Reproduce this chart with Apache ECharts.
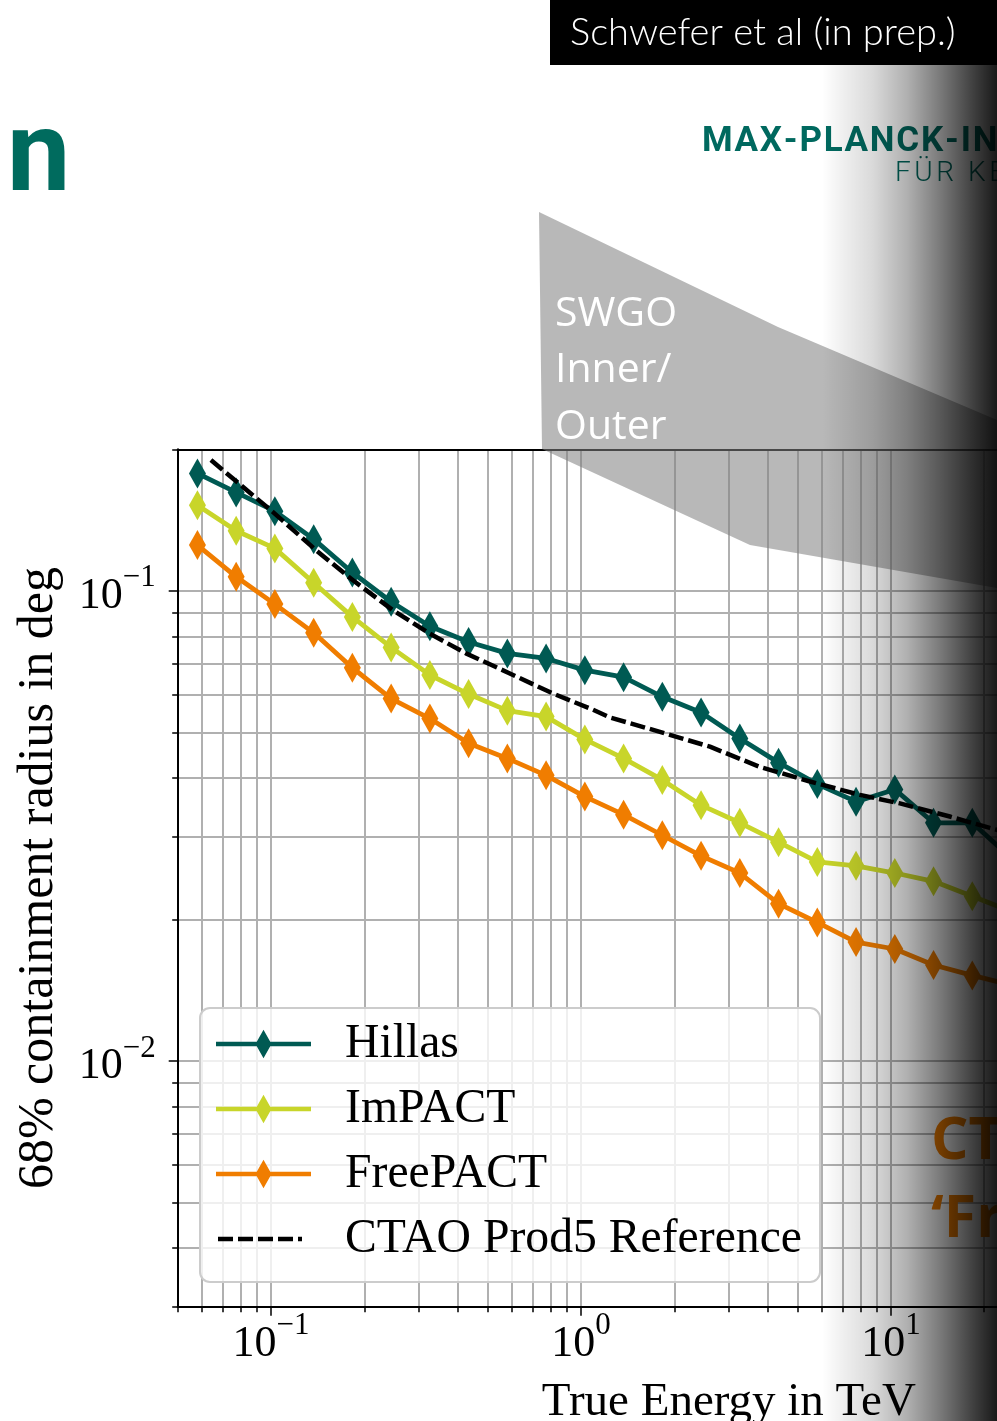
<!DOCTYPE html>
<html>
<head>
<meta charset="utf-8">
<script src="https://cdn.jsdelivr.net/npm/echarts@6/dist/echarts.min.js"></script>
<style>
  html, body { margin: 0; padding: 0; background: #ffffff; }
  #chart { width: 997px; height: 1421px; }
</style>
</head>
<body>
<div id="chart"></div>
<script>
// Energy bin centres in TeV (eight bins per decade)
const energyTeV = [0.0579, 0.0772, 0.1029, 0.1373, 0.1830, 0.2441, 0.3255, 0.4340, 0.5788, 0.7718,
                   1.0292, 1.3725, 1.8302, 2.4406, 3.2546, 4.3401, 5.7876, 7.7179, 10.292, 13.725,
                   18.302, 24.406];

// 68% containment radius in deg for each reconstruction method
const hillas   = [0.1777, 0.1619, 0.1477, 0.1288, 0.1094, 0.0948, 0.0841, 0.0778, 0.0736, 0.0718,
                  0.0678, 0.0655, 0.0595, 0.0551, 0.0485, 0.0431, 0.0388, 0.0356, 0.0378, 0.0321,
                  0.0321, 0.0270];
const impact   = [0.1521, 0.1342, 0.1231, 0.1040, 0.0880, 0.0758, 0.0662, 0.0603, 0.0556, 0.0540,
                  0.0483, 0.0440, 0.0396, 0.0350, 0.0321, 0.0292, 0.0265, 0.0260, 0.0251, 0.0241,
                  0.0224, 0.0208];
const freepact = [0.1251, 0.1071, 0.0937, 0.0814, 0.0686, 0.0590, 0.0535, 0.0474, 0.0440, 0.0405,
                  0.0365, 0.0334, 0.0302, 0.0273, 0.0251, 0.0216, 0.0197, 0.0179, 0.0173, 0.0160,
                  0.0152, 0.0145];

// CTAO Prod5 reference curve
const refEnergyTeV = [0.0640, 0.1013, 0.1397, 0.1834, 0.2469, 0.3241, 0.4256, 0.5871, 0.8105, 1.0906,
                      1.240, 1.798, 2.607, 3.780, 5.479, 7.943, 10.69, 15.49, 20.85, 24.2];
const refRadius    = [0.1897, 0.1472, 0.1220, 0.1054, 0.0910, 0.0812, 0.0736, 0.0668, 0.0605, 0.0559,
                      0.0538, 0.0501, 0.0466, 0.0422, 0.0393, 0.0368, 0.0353, 0.0331, 0.0313, 0.0305];

// Tick positions for the log axes
const xMajorTicks = [0.1, 1, 10, 100];
const xMinorTicks = [0.05, 0.06, 0.07, 0.08, 0.09, 0.2, 0.3, 0.4, 0.5, 0.6, 0.7, 0.8, 0.9,
                     2, 3, 4, 5, 6, 7, 8, 9, 20, 30, 40, 50, 60, 70, 80, 90];
const yMajorTicks = [0.01, 0.1];
const yMinorTicks = [0.003, 0.004, 0.005, 0.006, 0.007, 0.008, 0.009,
                     0.02, 0.03, 0.04, 0.05, 0.06, 0.07, 0.08, 0.09, 0.2];

const seriesNames  = ['Hillas', 'ImPACT', 'FreePACT', 'CTAO Prod5 Reference'];
const seriesColors = ['#005a53', '#c8d52a', '#f07d00', '#000000'];

const X_MIN = 0.05, X_MAX = 180, Y_MIN = 0.003, Y_MAX = 0.2;

const serif = "'Liberation Serif', 'DejaVu Serif', serif";
const axisBlack = { color: '#000000', width: 2 };
const tickBlack = { color: '#000000', width: 1.5 };
const gridLine  = { color: '#b0b0b0', width: 2 };

function powLabel(v) {
  const p = Math.round(Math.log10(v));
  return '{b|10}{s|' + (p < 0 ? '\u2212' : '') + Math.abs(p) + '}';
}
const labelRich = {
  b: { fontFamily: serif, fontSize: 44, color: '#000', padding: [12, 0, 0, 0], verticalAlign: 'bottom' },
  s: { fontFamily: serif, fontSize: 31, color: '#000', verticalAlign: 'top' }
};

// Legend glyphs: line with a slim diamond, and a dashed line
const diamondIcon = 'path://M0,11.9H95V16.5H0Z M39.5,14.2L47.5,0L55.5,14.2L47.5,28.4Z';
const dashIcon = 'path://M0,0M95,28.4M2,12H17V16.4H2Z M22,12H37V16.4H22Z M42,12H57V16.4H42Z M62,12H77V16.4H62Z M82,12H86V16.4H82Z';

function pairs(xs, ys) { return xs.map((x, i) => [x, ys[i]]); }

function markerSeries(idx, values) {
  return {
    type: 'line', name: seriesNames[idx], xAxisIndex: 0, yAxisIndex: 0,
    data: pairs(energyTeV, values),
    symbol: 'diamond', symbolSize: [17, 30], showSymbol: true,
    lineStyle: { color: seriesColors[idx], width: 4.8 },
    itemStyle: { color: seriesColors[idx] },
    emphasis: { disabled: true }, animation: false, z: 2
  };
}

// Letter-spaced text laid out glyph by glyph so that the first `spanChars`
// characters cover `spanWidth` pixels.
const measureCtx = document.createElement('canvas').getContext('2d');
function trackedText(str, x, y, spanChars, spanWidth, style) {
  const font = (style.fontWeight || 'normal') + ' ' + style.fontSize + 'px ' + style.fontFamily;
  measureCtx.font = font;
  const natural = measureCtx.measureText(str.slice(0, spanChars)).width;
  const track = (spanWidth - natural) / spanChars;
  const out = [];
  let cx = x;
  for (const ch of str) {
    out.push({ type: 'text', x: cx, y: y, z: 1, silent: true,
      style: Object.assign({ text: ch, verticalAlign: 'middle' }, style) });
    cx += measureCtx.measureText(ch).width + track;
  }
  return out;
}

const logoTop = trackedText('MAX-PLANCK-INSTITUT', 702, 142, 11, 255,
  { fill: '#00695f', fontSize: 35, fontWeight: 'bold', fontFamily: 'Roboto' });
const logoSub = trackedText('FÜR KERNPHYSIK', 895, 174, 4, 73,
  { fill: '#00695f', fontSize: 28, fontWeight: 300, fontFamily: 'Roboto' });

const chart = echarts.init(document.getElementById('chart'), null, { renderer: 'canvas' });

chart.setOption({
  animation: false,
  backgroundColor: '#ffffff',
  grid: { left: 177.7, top: 449.3, right: -283, bottom: 114.3, outerBoundsMode: 'none', containLabel: false },
  xAxis: [
    {
      type: 'log', position: 'bottom', min: X_MIN, max: X_MAX,
      name: 'True Energy in TeV', nameLocation: 'middle', nameGap: 72, nameMoveOverlap: false,
      nameTextStyle: { fontFamily: serif, fontSize: 47, color: '#000', verticalAlign: 'top' },
      axisLine: { show: true, lineStyle: axisBlack },
      axisTick: { show: true, inside: false, length: 9, customValues: xMajorTicks, lineStyle: tickBlack },
      axisLabel: { show: true, customValues: xMajorTicks, margin: 4, formatter: powLabel, rich: labelRich },
      splitLine: { show: true, lineStyle: gridLine },
      minorTick: { show: false }, minorSplitLine: { show: false }
    },
    {
      type: 'log', position: 'bottom', min: X_MIN, max: X_MAX,
      axisLine: { show: false },
      axisTick: { show: true, inside: false, length: 5.5, customValues: xMinorTicks, lineStyle: tickBlack },
      axisLabel: { show: false },
      splitLine: { show: true, showMinLine: false, showMaxLine: false, lineStyle: gridLine }
    },
    {
      type: 'log', position: 'top', min: X_MIN, max: X_MAX,
      axisLine: { show: true, lineStyle: axisBlack },
      axisTick: { show: false }, axisLabel: { show: false }, splitLine: { show: false }
    }
  ],
  yAxis: [
    {
      type: 'log', position: 'left', min: Y_MIN, max: Y_MAX,
      name: '68% containment radius in deg', nameLocation: 'middle', nameGap: 114, nameRotate: 90,
      nameMoveOverlap: false,
      nameTextStyle: { fontFamily: serif, fontSize: 50, color: '#000' },
      axisLine: { show: true, lineStyle: axisBlack },
      axisTick: { show: true, inside: false, length: 9, customValues: yMajorTicks, lineStyle: tickBlack },
      axisLabel: { show: true, customValues: yMajorTicks, margin: 22, formatter: powLabel, rich: labelRich },
      splitLine: { show: true, lineStyle: gridLine },
      minorTick: { show: false }, minorSplitLine: { show: false }
    },
    {
      type: 'log', position: 'left', min: Y_MIN, max: Y_MAX,
      axisLine: { show: false },
      axisTick: { show: true, inside: false, length: 5.5, customValues: yMinorTicks, lineStyle: tickBlack },
      axisLabel: { show: false },
      splitLine: { show: true, showMinLine: false, showMaxLine: false, lineStyle: gridLine }
    }
  ],
  legend: {
    orient: 'vertical', left: 200, top: 1008,
    padding: [11, 18, 18, 16],
    itemWidth: 95, itemHeight: 28.4, itemGap: 15,
    backgroundColor: 'rgba(255,255,255,0.8)',
    borderColor: '#cccccc', borderWidth: 2, borderRadius: 10,
    selectedMode: false,
    itemStyle: { borderWidth: 0 },
    textStyle: { fontFamily: serif, fontSize: 47.7, color: '#000', lineHeight: 50, padding: [0, 0, 0, 29] },
    data: [
      { name: seriesNames[0], icon: diamondIcon },
      { name: seriesNames[1], icon: diamondIcon },
      { name: seriesNames[2], icon: diamondIcon },
      { name: seriesNames[3], icon: dashIcon }
    ]
  },
  series: [
    markerSeries(0, hillas),
    markerSeries(1, impact),
    markerSeries(2, freepact),
    {
      type: 'line', name: seriesNames[3], xAxisIndex: 0, yAxisIndex: 0,
      data: pairs(refEnergyTeV, refRadius),
      symbol: 'none', showSymbol: false,
      lineStyle: { color: '#000', width: 4.5, type: [15, 5] },
      itemStyle: { color: '#000' },
      emphasis: { disabled: true }, animation: false, z: 3
    }
  ],
  graphic: [
    // slide header: citation box
    { type: 'rect', shape: { x: 550, y: 0, width: 447, height: 65 }, style: { fill: '#000' }, z: 20 },
    { type: 'text', x: 570, y: 33, z: 21,
      style: { text: 'Schwefer et al (in prep.)', fill: '#ffffff', fontSize: 38, fontWeight: 300, fontFamily: 'Lato', verticalAlign: 'middle' } },
    // slide title fragment
    { type: 'text', x: 7, y: 162, z: 1,
      style: { text: 'n', fill: '#006b5e', fontSize: 113, fontWeight: 'bold', fontFamily: 'Roboto', verticalAlign: 'middle' } },
    // institute logo text
    ...logoTop,
    ...logoSub,
    // SWGO sensitivity band
    { type: 'polygon', z: 5,
      shape: { points: [[539, 212], [778, 327], [997, 420], [997, 588], [750, 545], [542, 449]] },
      style: { fill: 'rgba(128,128,128,0.56)' } },
    { type: 'text', x: 555, y: 314.6, z: 6,
      style: { text: 'SWGO', fill: '#ffffff', fontSize: 41, fontFamily: 'Open Sans', verticalAlign: 'middle' } },
    { type: 'text', x: 555, y: 370.6, z: 6,
      style: { text: 'Inner/', fill: '#ffffff', fontSize: 41, fontFamily: 'Open Sans', verticalAlign: 'middle' } },
    { type: 'text', x: 555, y: 427.6, z: 6,
      style: { text: 'Outer', fill: '#ffffff', fontSize: 41, fontFamily: 'Open Sans', verticalAlign: 'middle' } },
    // side annotation
    { type: 'text', x: 931, y: 1142, z: 6,
      style: { text: 'CTA', fill: '#f07d00', fontSize: 59, fontWeight: 'bold', fontFamily: 'Open Sans', verticalAlign: 'middle' } },
    { type: 'text', x: 931, y: 1220, z: 6,
      style: { text: '\u2018FreePACT\u2019', fill: '#f07d00', fontSize: 59, fontWeight: 'bold', fontFamily: 'Open Sans', verticalAlign: 'middle' } },
    // dark fade along the right edge of the slide
    { type: 'rect', z: 100, silent: true,
      shape: { x: 822, y: 65, width: 200, height: 1356 },
      style: { fill: { type: 'linear', x: 0, y: 0, x2: 1, y2: 0, colorStops: [
        { offset: 0,     color: 'rgba(0,0,0,0)' },
        { offset: 0.255, color: 'rgba(0,0,0,0.15)' },
        { offset: 0.425, color: 'rgba(0,0,0,0.31)' },
        { offset: 0.59,  color: 'rgba(0,0,0,0.52)' },
        { offset: 0.755, color: 'rgba(0,0,0,0.75)' },
        { offset: 0.875, color: 'rgba(0,0,0,0.9)' },
        { offset: 1,     color: 'rgba(0,0,0,0.97)' }
      ] } } }
  ]
});
</script>
</body>
</html>
